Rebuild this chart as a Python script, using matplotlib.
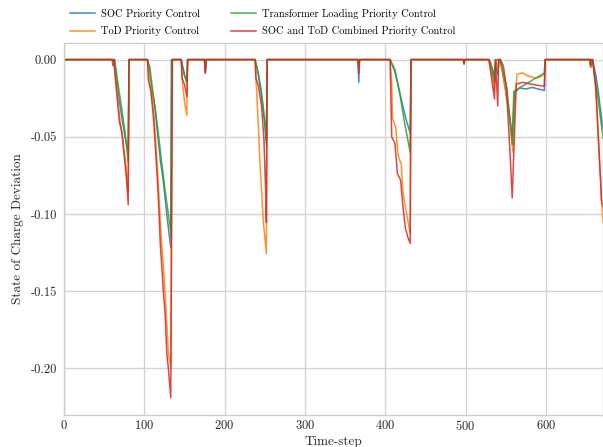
import numpy as np
import matplotlib
matplotlib.use("Agg")
import matplotlib.pyplot as plt

# breakpoints (time-step, SoC deviation)
t_soc = [0, 63, 67, 72, 76, 80, 81, 104, 106, 109, 113, 116, 120, 124, 128, 133, 134,
         146, 150, 153, 154, 175, 176, 177, 238, 242, 246, 250, 252, 253, 366, 367, 368,
         406, 412, 420, 426, 431, 432, 497, 498, 499, 529, 531, 534, 537, 540, 542, 543,
         550, 556, 558, 561, 567, 575, 583, 590, 598, 599, 658, 662, 665, 668, 671]
v_soc = [0, 0, -0.02, -0.037, -0.05, -0.06, 0, 0, -0.005, -0.018, -0.03, -0.045, -0.065,
         -0.08, -0.1, -0.122, 0, 0, -0.01, -0.014, 0, 0, -0.008, 0, 0, -0.01, -0.024,
         -0.042, -0.055, 0, 0, -0.0147, 0, 0, -0.008, -0.026, -0.039, -0.0475, 0, 0,
         -0.002, 0, 0, -0.002, -0.011, -0.003, -0.01, 0, 0, -0.02, -0.041, -0.05,
         -0.0216, -0.0184, -0.019, -0.018, -0.019, -0.020, 0, 0, -0.01, -0.02, -0.033, -0.045]

t_tod = [0, 62, 66, 70, 73, 77, 80, 81, 104, 106, 109, 112, 115, 118, 121, 124, 127, 130,
         133, 135, 146, 148, 150, 153, 154, 175, 176, 177, 238, 239, 242, 244, 246, 248,
         252, 253, 366, 367, 368, 406, 408, 409, 413, 416, 420, 422, 428, 431, 432, 497,
         498, 499, 529, 533, 535, 537, 540, 541, 543, 548, 553, 557, 559, 561, 564, 571,
         575, 580, 588, 594, 598, 599, 658, 662, 664, 666, 668, 671]
v_tod = [0, 0, -0.02, -0.04, -0.05, -0.068, -0.086, 0, 0, -0.01, -0.02, -0.035, -0.058,
         -0.085, -0.115, -0.135, -0.16, -0.19, -0.199, 0, 0, -0.017, -0.027, -0.036, 0, 0,
         -0.008, 0, 0, -0.012, -0.043, -0.067, -0.084, -0.104, -0.1255, 0, 0, -0.004, 0,
         0, -0.015, -0.038, -0.044, -0.062, -0.068, -0.086, -0.104, -0.1125, 0, 0, -0.002,
         0, 0, -0.011, -0.02, 0, -0.006, 0, 0, -0.015, -0.032, -0.05, -0.06, -0.03,
         -0.0093, -0.0087, -0.01, -0.011, -0.012, -0.011, -0.009, 0, 0, -0.02, -0.04,
         -0.06, -0.08, -0.105]

t_trf = [0, 63, 68, 72, 76, 80, 81, 104, 107, 110, 114, 118, 122, 126, 130, 133, 134,
         146, 150, 153, 154, 175, 176, 177, 238, 242, 246, 250, 252, 253, 366, 367, 368,
         406, 412, 418, 424, 431, 432, 497, 498, 499, 529, 533, 536, 538, 543, 551, 555,
         558, 560, 598, 599, 654, 655, 656, 658, 665, 671]
v_trf = [0, 0, -0.018, -0.032, -0.047, -0.066, 0, 0, -0.005, -0.018, -0.033, -0.05,
         -0.068, -0.085, -0.1, -0.1115, 0, 0, -0.01, -0.015, 0, 0, -0.008, 0, 0, -0.0087,
         -0.0216, -0.039, -0.053, 0, 0, -0.003, 0, 0, -0.0065, -0.0216, -0.041, -0.060, 0,
         0, -0.002, 0, 0, -0.005, -0.015, 0, 0, -0.0173, -0.037, -0.055, -0.0205, -0.0087,
         0, 0, -0.004, 0, 0, -0.026, -0.051]

t_comb = [0, 60, 61, 62, 65, 69, 72, 76, 78, 80, 81, 104, 105, 108, 111, 113, 116, 118,
          120, 122, 124, 126, 128, 130, 133, 135, 146, 147, 150, 153, 154, 175, 176, 177,
          238, 239, 242, 246, 249, 251, 252, 253, 366, 367, 368, 406, 408, 412, 415, 419,
          422, 425, 428, 431, 432, 497, 498, 499, 529, 536, 537, 540, 541, 543, 547, 551,
          555, 558, 563, 571, 580, 598, 599, 655, 656, 657, 658, 662, 664, 666, 668, 669, 671]
v_comb = [0, 0, -0.004, 0, -0.018, -0.04, -0.047, -0.067, -0.078, -0.094, 0, 0, -0.013,
          -0.02, -0.035, -0.05, -0.075, -0.095, -0.12, -0.135, -0.152, -0.165, -0.19, -0.2,
          -0.219, 0, 0, -0.012, -0.016, -0.024, 0, 0, -0.009, 0, 0, -0.012, -0.017, -0.03,
          -0.052, -0.084, -0.1056, 0, 0, -0.009, 0, 0, -0.050, -0.054, -0.0735, -0.078,
          -0.095, -0.109, -0.115, -0.119, 0, 0, -0.003, 0, 0, -0.0255, 0, -0.030, 0, 0,
          -0.004, -0.0195, -0.058, -0.0896, -0.016, -0.0147, -0.0158, -0.0173, 0, 0, -0.005,
          0, 0, -0.017, -0.037, -0.058, -0.078, -0.091, -0.095]

labels = ["SOC Priority Control", "ToD Priority Control",
          "Transformer Loading Priority Control", "SOC and ToD Combined Priority Control"]
colors = ["tab:blue", "tab:orange", "tab:green", "tab:red"]

plt.rcParams.update({
    "font.family": "serif",
    "font.serif": ["cmr10"],
    "mathtext.fontset": "cm",
    "axes.formatter.use_mathtext": True,
    "font.size": 9,
    "axes.edgecolor": "#cccccc",
    "axes.linewidth": 1.0,
    "grid.color": "#d4d4d4",
    "grid.linewidth": 1.0,
    "xtick.major.size": 0,
    "ytick.major.size": 0,
    "xtick.color": "#262626",
    "ytick.color": "#262626",
    "axes.labelcolor": "#262626",
})

fig = plt.figure(figsize=(6.03, 4.47), dpi=100)
ax = fig.add_axes([0.106, 0.0725, 0.894, 0.832])

series = [(t_soc, v_soc), (t_tod, v_tod), (t_trf, v_trf), (t_comb, v_comb)]
for (t, v), lab, c in zip(series, labels, colors):
    ax.plot(t, v, color=c, lw=1.1, alpha=0.85, label=lab)

ax.margins(x=0)
ax.grid(True)
ax.set_axisbelow(True)
ax.set_xticks([0, 100, 200, 300, 400, 500, 600])
ax.set_yticks([0.0, -0.05, -0.10, -0.15, -0.20])
ax.yaxis.set_major_formatter(matplotlib.ticker.FormatStrFormatter("%.2f"))
ax.xaxis.set_tick_params(pad=3)
ax.yaxis.set_tick_params(pad=5)
ax.set_xlabel("Time-step", fontsize=9.5, labelpad=2)
ax.set_ylabel("State of Charge Deviation", fontsize=9.5, labelpad=5)

ax.legend(loc="lower left", bbox_to_anchor=(0.0, 1.0), ncol=2, frameon=False,
          fontsize=7.5, handlelength=2.4, handletextpad=0.6, columnspacing=2.9,
          borderaxespad=0.2, labelspacing=0.75)

fig.savefig("out.png", dpi=100)
